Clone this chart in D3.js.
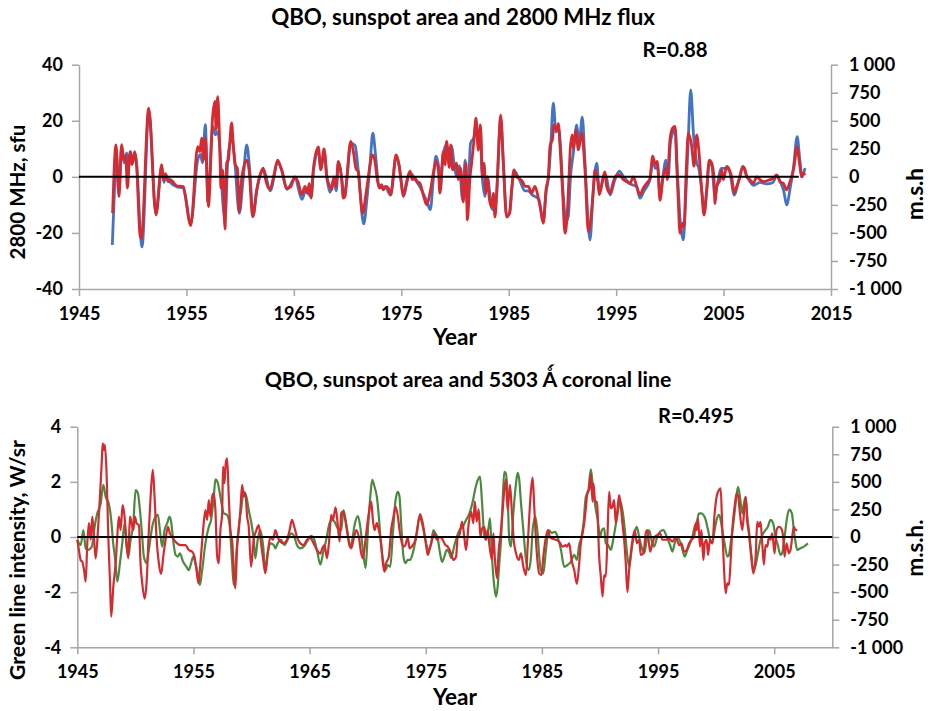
<!DOCTYPE html>
<html><head><meta charset="utf-8">
<script src="https://cdn.jsdelivr.net/npm/d3@7"></script>
<style>body{margin:0;background:#fff}text{font-family:Lato,"Open Sans",sans-serif;font-weight:bold;fill:#000}</style>
</head><body><svg id="c" width="929" height="711"></svg>
<script>
// ---------- DATA ----------
// Top panel: 2800 MHz flux QBO (sfu, left axis)
const topBlue = [[1948.1,-24.3],[1948.3,-5],[1948.44,10],[1948.72,-5],[1948.97,10.5],[1949.19,5],[1949.45,8.5],[1949.6,3],[1949.8,9],[1950.0,5],[1950.2,8.5],[1950.4,3],[1950.7,-19],[1950.86,-25],[1951.5,23.5],[1952.15,-13],[1952.7,3.5],[1952.9,-2],[1953.1,0.5],[1953.5,-2],[1954.1,-3.5],[1954.7,-4],[1955.4,-16.5],[1956.05,6],[1956.3,8],[1956.5,5],[1956.76,18.6],[1957.0,-9],[1957.45,18],[1957.7,15],[1957.9,16],[1958.15,8],[1958.3,-4],[1958.6,-15],[1958.85,6],[1959.2,14],[1959.45,8],[1959.92,-13],[1960.3,0],[1960.61,11.4],[1960.9,2],[1961.2,-14],[1961.55,-5],[1961.9,1],[1962.2,2.5],[1962.8,-5],[1963.5,5],[1963.9,2],[1964.35,-4.5],[1965.1,-0.5],[1965.75,-8],[1966.1,-5],[1966.6,-7],[1966.85,3],[1967.3,9],[1967.5,3],[1967.85,8.5],[1968.1,-1],[1968.36,-5.5],[1968.7,-1],[1968.95,-5],[1969.15,5],[1969.5,-2],[1969.65,-7.5],[1969.9,-2],[1970.3,12],[1970.7,11.2],[1971.0,2],[1971.5,-16.8],[1971.8,-8],[1972.1,5],[1972.35,15.6],[1972.6,8],[1972.9,-3],[1973.2,-4],[1973.5,-3.5],[1974.0,-6.5],[1974.5,7],[1974.8,4],[1975.2,-6.5],[1975.8,1.5],[1976.3,-1],[1976.8,-4],[1977.4,-9],[1977.7,-11.7],[1978.0,0],[1978.23,7.4],[1978.5,3],[1978.6,-5],[1978.9,8],[1979.2,11.5],[1979.5,5],[1979.7,11],[1979.9,5],[1980.2,0],[1980.4,4],[1980.7,-8],[1980.95,6],[1981.15,-10],[1981.45,12],[1981.75,14],[1981.95,19],[1982.15,12],[1982.35,18],[1982.5,2],[1982.8,-7],[1983.0,0],[1983.3,-8],[1983.4,-11],[1983.7,-12],[1983.9,-5],[1984.25,21],[1984.5,5],[1984.8,-14],[1985.1,-13],[1985.3,-4],[1985.5,2],[1986.0,-1],[1986.5,-5],[1986.8,-5],[1987.2,-6.5],[1987.8,-8],[1988.2,-16],[1988.5,-5],[1988.7,0],[1988.9,10],[1989.15,26.3],[1989.4,16],[1989.65,17],[1989.8,12],[1990.05,-5],[1990.35,-16],[1990.55,-14],[1990.75,0],[1991.0,8],[1991.33,18.5],[1991.55,12],[1991.85,21.3],[1992.1,5],[1992.57,-22.5],[1992.85,-6],[1993.19,4.9],[1993.45,-5.5],[1993.8,-0.5],[1994.0,1],[1994.45,-6.5],[1994.8,-2],[1995.3,2],[1995.7,0],[1996.3,-2.5],[1996.9,-3.5],[1997.22,-7.6],[1997.6,-5],[1998.15,-1],[1998.4,6],[1998.65,3],[1998.85,4],[1999.1,-7],[1999.35,0],[1999.64,6],[1999.85,0],[2000.05,12],[2000.3,16],[2000.5,17],[2000.7,2],[2000.95,-15],[2001.25,-22.5],[2001.45,-10],[2001.7,12],[2001.94,31],[2002.2,15],[2002.5,5],[2002.7,3],[2003.0,-6],[2003.2,-12.5],[2003.45,-4],[2003.65,5],[2003.9,4],[2004.2,-7],[2004.4,-3],[2004.8,3],[2005.3,3],[2005.55,2],[2006.0,-6.5],[2006.3,-3],[2006.8,3.5],[2007.2,0],[2007.8,-3],[2008.4,-2],[2009.0,-2.5],[2009.6,-2],[2009.94,0.5],[2010.3,-2],[2010.6,-5],[2010.87,-10],[2011.2,-4],[2011.5,3],[2011.85,14.3],[2012.1,6],[2012.3,0],[2012.58,3.1]];
// Top panel: sunspot area QBO (m.s.h., right axis)
const topRed = [[1948.13,-323],[1948.44,285],[1948.72,-175],[1948.97,288],[1949.19,150],[1949.35,188],[1949.5,-100],[1949.75,225],[1949.93,108],[1950.18,225],[1950.35,118],[1950.68,-518],[1950.8,-550],[1951.49,613],[1952.17,-340],[1952.7,108],[1952.85,-25],[1953.04,28],[1953.3,-43],[1953.5,-25],[1954.09,-80],[1954.71,-88],[1954.85,-145],[1955.4,-435],[1956.05,270],[1956.25,225],[1956.42,345],[1956.58,150],[1956.76,350],[1957.04,-265],[1957.44,538],[1957.66,673],[1957.75,420],[1957.91,715],[1958.07,375],[1958.22,-100],[1958.38,63],[1958.59,-465],[1958.75,125],[1958.9,150],[1959.21,480],[1959.36,288],[1959.52,113],[1959.74,75],[1959.92,-310],[1960.13,-25],[1960.61,150],[1960.83,63],[1961.17,-355],[1961.54,-115],[1961.91,33],[1962.16,78],[1962.37,-25],[1962.78,-113],[1963.15,18],[1963.49,150],[1963.86,63],[1964.33,-100],[1964.7,-88],[1965.1,0],[1965.41,-50],[1965.73,-160],[1966.04,-85],[1966.25,-145],[1966.44,-58],[1966.6,-190],[1966.81,65],[1967.28,268],[1967.5,63],[1967.81,250],[1968.06,0],[1968.36,-85],[1968.52,-115],[1968.73,0],[1968.92,-85],[1969.14,138],[1969.45,-25],[1969.6,-190],[1969.76,-175],[1969.92,-25],[1970.29,315],[1970.54,225],[1970.78,75],[1971.0,45],[1971.15,-115],[1971.4,-325],[1971.7,-160],[1972.09,105],[1972.27,195],[1972.49,165],[1972.77,-25],[1972.96,-100],[1973.17,-70],[1973.33,-115],[1973.58,-85],[1973.79,-100],[1974.01,-160],[1974.26,0],[1974.51,195],[1974.76,123],[1974.97,-25],[1975.19,-175],[1975.44,-70],[1975.81,50],[1976.03,-25],[1976.28,-13],[1976.5,-43],[1976.74,-58],[1977.05,-163],[1977.36,-250],[1977.67,-145],[1977.98,33],[1978.23,138],[1978.45,63],[1978.6,-145],[1978.91,225],[1979.07,108],[1979.22,315],[1979.47,85],[1979.6,285],[1979.78,63],[1980.15,123],[1980.31,-25],[1980.53,78],[1980.77,-223],[1981.02,123],[1981.15,-383],[1981.4,0],[1981.55,123],[1981.77,330],[1981.95,523],[1982.17,238],[1982.36,463],[1982.57,0],[1982.7,123],[1982.88,-145],[1983.0,0],[1983.2,-200],[1983.41,-268],[1983.57,-145],[1983.72,-358],[1983.88,-145],[1984.03,185],[1984.25,550],[1984.5,125],[1984.81,-358],[1985.06,-325],[1985.27,-115],[1985.49,63],[1985.74,0],[1985.99,-15],[1986.3,-43],[1986.52,-85],[1986.83,-85],[1987.13,-145],[1987.44,-85],[1987.76,-190],[1988.07,-340],[1988.22,-413],[1988.47,-115],[1988.69,0],[1988.84,270],[1989.09,345],[1989.21,463],[1989.46,420],[1989.62,475],[1989.78,270],[1990.02,-145],[1990.24,-503],[1990.45,-325],[1990.6,-25],[1990.75,275],[1990.92,375],[1991.02,250],[1991.26,418],[1991.48,240],[1991.8,390],[1992.1,63],[1992.41,-488],[1992.82,-190],[1993.03,63],[1993.3,-50],[1993.44,-160],[1993.8,0],[1993.96,45],[1994.12,-85],[1994.43,-145],[1994.74,-43],[1995.05,18],[1995.3,18],[1995.67,-25],[1995.98,-43],[1996.29,-58],[1996.6,0],[1996.91,-85],[1997.22,-160],[1997.53,-100],[1997.84,-58],[1998.15,-15],[1998.4,185],[1998.62,113],[1998.83,138],[1999.08,-208],[1999.33,-25],[1999.64,75],[1999.76,-25],[2000.01,330],[2000.26,435],[2000.48,450],[2000.63,125],[2000.79,-235],[2000.94,-503],[2001.19,-413],[2001.32,-445],[2001.5,0],[2001.72,390],[2002.03,275],[2002.25,95],[2002.5,373],[2002.74,185],[2002.96,-115],[2003.18,-340],[2003.43,-115],[2003.67,150],[2003.89,123],[2004.1,0],[2004.2,-238],[2004.36,-85],[2004.67,-25],[2004.82,63],[2004.98,-25],[2005.29,93],[2005.54,63],[2005.75,0],[2006.0,-145],[2006.22,-85],[2006.53,0],[2006.78,93],[2007.0,63],[2007.15,0],[2007.46,-25],[2007.77,-58],[2008.08,0],[2008.39,-25],[2008.7,-43],[2009.32,-25],[2009.63,-13],[2009.94,18],[2010.25,-43],[2010.56,-58],[2010.87,-115],[2011.18,-43],[2011.43,33],[2011.65,150],[2011.8,270],[2012.11,93],[2012.26,0],[2012.43,33],[2012.58,15]];
// Bottom panel: green line intensity QBO (W/sr, left axis)
const botGreen = [[1945.0,-0.1],[1945.29,-0.29],[1945.52,0.25],[1945.72,-0.41],[1945.92,-0.47],[1946.15,-0.41],[1946.29,-0.29],[1946.49,0.37],[1946.72,0.86],[1947.01,1.2],[1947.24,1.89],[1947.44,1.46],[1947.72,1.2],[1947.92,0.62],[1948.09,-0.23],[1948.27,-0.83],[1948.44,-1.62],[1948.67,-0.95],[1948.87,-0.23],[1949.07,0.49],[1949.24,-0.35],[1949.39,-0.71],[1949.59,-0.1],[1949.82,0.49],[1950.02,1.7],[1950.22,1.58],[1950.39,0.98],[1950.59,0.0],[1950.73,-0.71],[1950.96,-0.95],[1951.16,-0.47],[1951.45,0.37],[1951.74,0.74],[1951.94,0.8],[1952.11,0.25],[1952.31,-0.35],[1952.51,0.25],[1952.74,0.5],[1952.94,0.74],[1953.08,0.55],[1953.25,-0.1],[1953.46,-0.65],[1953.66,-0.71],[1953.83,-0.59],[1954.11,-0.9],[1954.4,-1.08],[1954.6,-1.2],[1954.8,-0.95],[1954.97,-0.71],[1955.17,-0.95],[1955.37,-1.32],[1955.55,-1.74],[1955.75,-1.2],[1956.03,-0.23],[1956.32,0.37],[1956.52,0.62],[1956.75,1.46],[1956.89,2.09],[1957.09,1.97],[1957.32,1.46],[1957.61,0.86],[1957.9,0.8],[1958.13,0.37],[1958.33,-0.95],[1958.47,-1.74],[1958.67,-0.71],[1958.9,0.37],[1959.1,0.98],[1959.33,1.64],[1959.56,1.46],[1959.76,0.98],[1960.04,0.37],[1960.19,-0.1],[1960.33,-0.77],[1960.53,-0.1],[1960.76,0.25],[1960.99,-0.29],[1961.19,-1.2],[1961.39,-0.59],[1961.62,-0.23],[1961.91,-0.29],[1962.05,-0.41],[1962.25,-0.23],[1962.54,-0.1],[1962.82,-0.29],[1963.11,-0.1],[1963.4,0.13],[1963.63,0.07],[1963.91,-0.29],[1964.2,-0.41],[1964.49,-0.35],[1964.77,-0.17],[1965.12,0.04],[1965.4,-0.1],[1965.63,-0.47],[1965.92,-1.0],[1966.15,-0.6],[1966.43,-0.1],[1966.72,0.5],[1966.95,0.62],[1967.15,0.55],[1967.35,0.37],[1967.52,0.25],[1967.72,0.25],[1967.92,0.98],[1968.1,0.62],[1968.3,0.07],[1968.44,-0.35],[1968.67,-0.1],[1968.87,0.43],[1969.16,0.76],[1969.36,0.37],[1969.59,-0.47],[1969.82,-1.13],[1970.02,0.25],[1970.22,1.46],[1970.39,2.07],[1970.59,1.82],[1970.79,1.46],[1970.96,0.74],[1971.16,-0.35],[1971.36,-0.95],[1971.53,-1.2],[1971.73,-1.02],[1971.94,-1.08],[1972.17,0.13],[1972.4,1.34],[1972.6,1.64],[1972.74,1.46],[1972.88,0.5],[1973.08,-0.71],[1973.25,-0.95],[1973.45,-0.83],[1973.65,-0.83],[1973.88,-0.59],[1974.17,0.0],[1974.46,0.74],[1974.6,0.62],[1974.8,0.25],[1975.03,-0.23],[1975.26,-0.47],[1975.46,-0.23],[1975.66,0.25],[1975.83,0.13],[1976.03,-0.05],[1976.23,-0.59],[1976.4,-0.9],[1976.6,-0.71],[1976.81,-0.47],[1977.04,-0.59],[1977.18,-0.77],[1977.47,-0.29],[1977.67,0.0],[1977.9,0.25],[1978.19,0.37],[1978.47,0.62],[1978.76,0.86],[1979.04,1.28],[1979.27,1.76],[1979.5,2.09],[1979.67,2.19],[1979.85,1.22],[1980.05,0.0],[1980.19,-0.1],[1980.42,0.37],[1980.53,0.68],[1980.7,-0.71],[1980.9,-1.8],[1981.05,-2.16],[1981.19,-1.8],[1981.33,-0.95],[1981.48,-0.1],[1981.62,1.28],[1981.76,2.36],[1981.9,2.3],[1982.05,1.46],[1982.19,-0.1],[1982.34,-0.35],[1982.54,0.86],[1982.77,1.94],[1982.91,2.33],[1983.05,2.07],[1983.2,1.22],[1983.4,0.25],[1983.63,-0.83],[1983.86,-1.2],[1984.06,-0.71],[1984.2,0.25],[1984.43,0.74],[1984.63,0.13],[1984.77,-0.71],[1984.91,-1.2],[1985.12,-1.32],[1985.35,-0.47],[1985.58,0.25],[1985.86,0.15],[1986.15,0.19],[1986.35,0.0],[1986.64,-0.47],[1986.92,-1.08],[1987.2,-1.02],[1987.49,-0.9],[1987.78,-0.65],[1988.01,-0.83],[1988.21,-0.29],[1988.41,0.0],[1988.58,0.49],[1988.78,1.46],[1988.98,1.64],[1989.21,2.45],[1989.36,1.94],[1989.56,1.22],[1989.8,0.62],[1990.01,0.0],[1990.16,0.25],[1990.36,0.31],[1990.5,-0.23],[1990.7,-0.29],[1990.93,-0.47],[1991.08,-0.23],[1991.28,0.25],[1991.5,0.8],[1991.73,1.28],[1991.93,0.98],[1992.08,0.49],[1992.22,-0.1],[1992.36,-0.71],[1992.51,-1.08],[1992.65,-0.71],[1992.8,-0.23],[1993.0,0.19],[1993.17,0.37],[1993.37,0.0],[1993.57,-0.35],[1993.8,-0.59],[1994.03,-0.1],[1994.23,0.25],[1994.43,-0.1],[1994.66,-0.35],[1994.89,-0.05],[1995.17,0.19],[1995.46,0.25],[1995.75,0.0],[1996.03,-0.29],[1996.23,-0.53],[1996.43,-0.23],[1996.66,0.0],[1996.95,-0.23],[1997.18,-0.59],[1997.29,-0.71],[1997.52,-0.47],[1997.75,-0.23],[1997.95,0.0],[1998.15,0.37],[1998.32,0.5],[1998.52,0.86],[1998.72,0.86],[1998.9,0.8],[1999.1,0.62],[1999.3,0.25],[1999.53,-0.17],[1999.67,-0.23],[1999.87,0.25],[2000.04,0.62],[2000.24,0.8],[2000.39,0.62],[2000.53,0.25],[2000.73,-0.23],[2000.96,-0.71],[2001.1,-0.65],[2001.25,-0.23],[2001.48,0.49],[2001.68,1.22],[2001.88,1.82],[2002.05,1.46],[2002.25,0.86],[2002.39,1.22],[2002.54,1.46],[2002.68,0.74],[2002.82,0.25],[2003.02,-0.59],[2003.2,-1.2],[2003.4,-1.02],[2003.6,-0.59],[2003.82,-0.1],[2004.05,0.13],[2004.25,0.25],[2004.45,0.37],[2004.68,0.62],[2004.91,0.49],[2005.11,0.0],[2005.31,-0.29],[2005.54,-0.65],[2005.68,-0.59],[2005.89,0.0],[2006.12,0.74],[2006.29,0.99],[2006.52,0.86],[2006.69,0.25],[2006.83,-0.17],[2006.98,-0.47],[2007.26,-0.41],[2007.55,-0.35],[2007.9,-0.23]];
// Bottom panel: sunspot area QBO (m.s.h., right axis)
const botRed = [[1945.0,-25],[1945.14,-118],[1945.29,-210],[1945.43,-225],[1945.58,-300],[1945.72,-405],[1945.86,-58],[1946.0,125],[1946.15,-25],[1946.29,185],[1946.43,0],[1946.58,-193],[1946.78,63],[1946.95,365],[1947.1,668],[1947.18,850],[1947.29,788],[1947.38,835],[1947.52,578],[1947.67,0],[1947.81,-390],[1947.92,-723],[1948.1,-450],[1948.3,-238],[1948.44,0],[1948.58,185],[1948.73,63],[1948.9,290],[1949.07,185],[1949.22,-25],[1949.39,-193],[1949.53,185],[1949.65,138],[1949.82,63],[1949.96,185],[1950.1,125],[1950.3,108],[1950.45,-250],[1950.59,-420],[1950.79,-558],[1950.96,-420],[1951.16,63],[1951.31,365],[1951.5,608],[1951.65,365],[1951.82,0],[1952.02,-238],[1952.22,-335],[1952.4,-178],[1952.6,-25],[1952.8,93],[1952.97,33],[1953.17,0],[1953.45,-43],[1953.88,-73],[1954.31,-73],[1954.6,-118],[1954.89,-133],[1955.09,-178],[1955.26,-300],[1955.43,-420],[1955.6,-238],[1955.83,63],[1956.03,245],[1956.18,155],[1956.32,335],[1956.46,185],[1956.61,365],[1956.75,395],[1956.89,245],[1957.04,-175],[1957.18,-238],[1957.32,63],[1957.47,215],[1957.55,638],[1957.67,488],[1957.78,668],[1957.9,713],[1958.04,365],[1958.18,63],[1958.35,-58],[1958.47,-330],[1958.61,-465],[1958.76,-88],[1958.9,63],[1959.04,245],[1959.19,473],[1959.33,365],[1959.47,395],[1959.62,185],[1959.76,93],[1959.96,-270],[1960.19,-25],[1960.42,63],[1960.62,108],[1960.82,-58],[1960.99,-193],[1961.19,-330],[1961.39,-148],[1961.62,0],[1961.85,-25],[1962.05,63],[1962.25,0],[1962.48,-43],[1962.77,-58],[1963.05,-25],[1963.28,63],[1963.48,155],[1963.68,93],[1963.91,0],[1964.2,-58],[1964.49,-73],[1964.77,-25],[1965.06,-10],[1965.35,-58],[1965.63,-118],[1965.92,-150],[1966.09,-103],[1966.29,-73],[1966.49,-193],[1966.66,-58],[1966.86,200],[1967.01,155],[1967.24,268],[1967.44,93],[1967.58,-43],[1967.72,215],[1967.87,230],[1968.01,185],[1968.21,63],[1968.38,-43],[1968.58,-103],[1968.78,-25],[1969.01,63],[1969.24,0],[1969.44,-148],[1969.59,-193],[1969.87,33],[1970.1,215],[1970.3,320],[1970.45,155],[1970.59,63],[1970.79,125],[1970.96,63],[1971.16,-58],[1971.31,-238],[1971.45,-315],[1971.59,-238],[1971.82,-178],[1972.02,63],[1972.22,185],[1972.4,273],[1972.6,185],[1972.74,63],[1972.88,-25],[1973.08,-88],[1973.25,-73],[1973.45,0],[1973.6,-103],[1973.88,-73],[1974.11,-25],[1974.31,93],[1974.51,208],[1974.74,125],[1974.97,-25],[1975.17,-163],[1975.32,-118],[1975.55,-25],[1975.75,33],[1975.95,-25],[1976.18,0],[1976.4,-15],[1976.69,-73],[1976.89,-88],[1977.18,-148],[1977.38,-208],[1977.61,-178],[1977.75,0],[1977.9,18],[1978.13,140],[1978.33,-13],[1978.47,-118],[1978.7,125],[1978.9,230],[1979.1,125],[1979.22,320],[1979.39,140],[1979.56,250],[1979.7,0],[1979.85,78],[1980.05,93],[1980.19,-25],[1980.33,63],[1980.48,-73],[1980.7,-208],[1980.82,33],[1980.96,-208],[1981.13,-375],[1981.28,-118],[1981.48,63],[1981.62,245],[1981.76,425],[1981.9,523],[1982.05,245],[1982.25,473],[1982.42,215],[1982.57,-25],[1982.77,-148],[1983.0,-208],[1983.2,-148],[1983.4,-270],[1983.63,-345],[1983.77,-88],[1983.91,185],[1984.06,425],[1984.2,538],[1984.34,275],[1984.54,-118],[1984.77,-330],[1984.97,-345],[1985.12,-178],[1985.35,0],[1985.52,63],[1985.69,0],[1985.92,-15],[1986.2,-25],[1986.49,-43],[1986.78,-88],[1987.06,-73],[1987.15,-88],[1987.35,-58],[1987.55,-208],[1987.78,-300],[1988.01,-425],[1988.21,-238],[1988.35,-58],[1988.5,33],[1988.64,125],[1988.78,260],[1988.93,410],[1989.07,425],[1989.21,575],[1989.36,320],[1989.44,485],[1989.58,320],[1989.73,320],[1989.93,-178],[1990.07,-360],[1990.22,-540],[1990.36,-345],[1990.5,-360],[1990.64,0],[1990.79,410],[1990.93,260],[1991.07,275],[1991.22,335],[1991.36,125],[1991.5,245],[1991.65,380],[1991.8,275],[1991.93,125],[1992.08,-25],[1992.22,-238],[1992.36,-500],[1992.51,-300],[1992.65,-148],[1992.8,-25],[1993.0,63],[1993.17,-58],[1993.37,-25],[1993.51,-163],[1993.74,-148],[1993.94,33],[1994.08,63],[1994.31,-133],[1994.51,-58],[1994.71,0],[1994.94,18],[1995.17,33],[1995.37,-25],[1995.66,-25],[1995.95,-15],[1996.23,-43],[1996.52,0],[1996.81,-73],[1997.01,-58],[1997.24,-133],[1997.47,-118],[1997.67,-58],[1997.87,-25],[1998.1,0],[1998.24,125],[1998.32,63],[1998.44,170],[1998.61,-88],[1998.73,63],[1998.9,-208],[1999.01,-58],[1999.18,-25],[1999.3,-163],[1999.47,-25],[1999.67,-58],[1999.87,215],[2000.04,365],[2000.24,425],[2000.39,440],[2000.53,63],[2000.67,-270],[2000.82,-510],[2000.96,-420],[2001.1,-435],[2001.25,-208],[2001.39,63],[2001.59,275],[2001.76,395],[2001.88,380],[2002.05,215],[2002.25,63],[2002.54,365],[2002.68,138],[2002.82,33],[2003.02,-178],[2003.2,-330],[2003.4,-178],[2003.54,138],[2003.68,93],[2003.82,138],[2003.97,-58],[2004.11,-250],[2004.25,-73],[2004.4,-88],[2004.54,0],[2004.68,-25],[2004.83,33],[2005.03,-148],[2005.2,63],[2005.4,93],[2005.6,78],[2005.77,0],[2005.89,-178],[2006.06,-58],[2006.26,-148],[2006.4,-118],[2006.69,93],[2006.83,63],[2006.98,63]];

const topYearTicks = [1945,1955,1965,1975,1985,1995,2005,2015];
const botYearTicks = [1945,1955,1965,1975,1985,1995,2005];
const topLeftTicks = [-40,-20,0,20,40];
const botLeftTicks = [-4,-2,0,2,4];
const mshTicks = [-1000,-750,-500,-250,0,250,500,750,1000];
const topZeroSpan = [1945,2012];
const botZeroSpan = [1945,2010];

// ---------- DRAW ----------
const svg = d3.select("#c");
const loc = d3.formatLocale({decimal:".",thousands:" ",grouping:[3],currency:["",""],minus:"-"});
const fmtMsh = loc.format(",d");
const fmtInt = loc.format("d");
const AX = "#a6a6a6";

function fitText(sel, w){
  let fs = parseFloat(sel.style("font-size"));
  const cw = sel.node().getComputedTextLength();
  if(cw>0) sel.style("font-size", (fs*w/cw).toFixed(2)+"px");
}

function panel(o){
  const x = d3.scaleLinear().domain(o.xDom).range([o.x0,o.x1]);
  const yl = d3.scaleLinear().domain(o.ylDom).range([o.y1,o.y0]);
  const yr = d3.scaleLinear().domain([-1000,1000]).range([o.y1,o.y0]);
  const g = svg.append("g");
  function styleAxis(a){
    a.selectAll("path.domain").attr("stroke",AX).attr("stroke-width",1.5);
    a.selectAll(".tick line").attr("stroke",AX).attr("stroke-width",1.5);
    a.selectAll("text").style("font-family","Lato, 'Open Sans', sans-serif").style("font-weight","bold").style("font-size","18px").attr("fill","#000");
  }
  const ax1 = g.append("g").attr("transform",`translate(0,${o.y1})`)
    .call(d3.axisBottom(x).tickValues(o.xTicks).tickFormat(d3.format("d")).tickSize(7).tickSizeOuter(0).tickPadding(11));
  styleAxis(ax1);
  const ax2 = g.append("g").attr("transform",`translate(${o.x0},0)`)
    .call(d3.axisLeft(yl).tickValues(o.ylTicks).tickFormat(fmtInt).tickSize(7).tickSizeOuter(0).tickPadding(9));
  styleAxis(ax2);
  const ax3 = g.append("g").attr("transform",`translate(${o.x1},0)`)
    .call(d3.axisRight(yr).tickValues(mshTicks).tickFormat(fmtMsh).tickSize(7).tickSizeOuter(0).tickPadding(11));
  styleAxis(ax3);

  const lineL = d3.line().curve(d3.curveMonotoneX).x(d=>x(d[0])).y(d=>yl(d[1]));
  const lineR = d3.line().curve(d3.curveMonotoneX).x(d=>x(d[0])).y(d=>yr(d[1]));
  g.append("path").datum(o.left).attr("d",lineL).attr("fill","none").attr("stroke",o.leftColor).attr("stroke-width",o.lw).attr("stroke-linejoin","round");
  g.append("path").datum(o.right).attr("d",lineR).attr("fill","none").attr("stroke","#d52a30").attr("stroke-width",o.lw).attr("stroke-linejoin","round");
  g.append("line").attr("x1",x(o.zero[0])).attr("x2",x(o.zero[1])).attr("y1",yl(0)).attr("y2",yl(0)).attr("stroke","#000").attr("stroke-width",2);

  // texts
  const t = g.append("text").attr("x",o.title.x).attr("y",o.title.y).attr("text-anchor","middle").style("font-size","19px").text(o.title.s);
  fitText(t,o.title.w);
  const r = g.append("text").attr("x",o.r.x).attr("y",o.r.y).attr("text-anchor","middle").style("font-size","19px").text(o.r.s);
  fitText(r,o.r.w);
  const yy = g.append("text").attr("x",455).attr("y",o.yearY).attr("text-anchor","middle").style("font-size","19px").text("Year");
  fitText(yy,44);
  const yl1 = g.append("text").attr("transform",`translate(${o.ylab.x},${o.ylab.y}) rotate(-90)`).attr("text-anchor","middle").style("font-size","19px").text(o.ylab.s);
  fitText(yl1,o.ylab.w);
  const yr1 = g.append("text").attr("transform",`translate(${o.yrlab.x},${o.yrlab.y}) rotate(-90)`).attr("text-anchor","middle").style("font-size","19px").text(o.yrlab.s);
  fitText(yr1,o.yrlab.w);
}

panel({xDom:[1945,2015],x0:79,x1:831,y0:64.7,y1:289,ylDom:[-40,40],xTicks:topYearTicks,ylTicks:topLeftTicks,
  left:topBlue,leftColor:"#4472c4",right:topRed,lw:2.8,zero:topZeroSpan,
  title:{s:"QBO, sunspot area and 2800 MHz flux",x:463,y:25,w:384},
  r:{s:"R=0.88",x:675,y:57,w:65},yearY:345,
  ylab:{s:"2800 MHz, sfu",x:25,y:192,w:135},
  yrlab:{s:"m.s.h",x:923,y:194,w:52}});

panel({xDom:[1945,2010],x0:77.3,x1:832.3,y0:426.7,y1:647.3,ylDom:[-4,4],xTicks:botYearTicks,ylTicks:botLeftTicks,
  left:botGreen,leftColor:"#4a8a3f",right:botRed,lw:2.2,zero:botZeroSpan,
  title:{s:"QBO, sunspot area and 5303 \u01FA coronal line",x:468,y:387,w:407},
  r:{s:"R=0.495",x:696,y:423,w:76},yearY:705,
  ylab:{s:"Green line intensity, W/sr",x:25,y:560,w:240},
  yrlab:{s:"m.s.h.",x:923,y:548,w:57}});
</script></body></html>
